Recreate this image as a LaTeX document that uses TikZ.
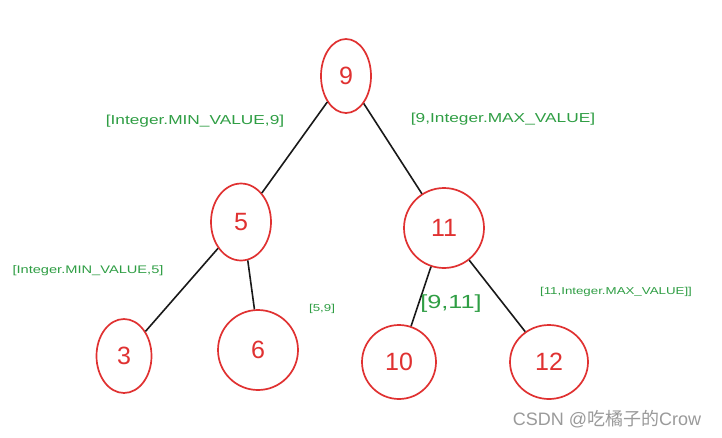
\documentclass[tikz,border=0pt]{standalone}
\usepackage{fontspec}
\setmainfont{Liberation Sans}
\newfontfamily\cjk{Noto Sans CJK SC}
\usetikzlibrary{shapes.geometric}
\definecolor{xred}{HTML}{E03131}
\definecolor{xgreen}{HTML}{2F9E44}
\definecolor{wm}{HTML}{9A9A9A}
\tikzset{
  tnode/.style={ellipse, draw=xred, line width=1.7pt, text=xred, inner sep=0pt, font=\fontsize{25}{25}\selectfont},
  edge/.style={draw=black!90, line width=1.6pt},
  lbl/.style={text=xgreen, inner sep=0pt}
}
\newcommand{\wide}[1]{\scalebox{1.33}[1]{#1}}
\begin{document}
\begin{tikzpicture}[x=1pt,y=-1pt]
\useasboundingbox[fill=white] (0,0) rectangle (722,437);
\node[tnode, minimum width=50pt, minimum height=74pt] (n9) at (346,76) {9};
\node[tnode, minimum width=60pt, minimum height=77pt] (n5) at (241,222) {5};
\node[tnode, minimum width=80pt, minimum height=80pt] (n11) at (444,228) {11};
\node[tnode, minimum width=55pt, minimum height=74pt] (n3) at (124,356) {3};
\node[tnode, minimum width=80pt, minimum height=80pt] (n6) at (258,350) {6};
\node[tnode, minimum width=74pt, minimum height=74pt] (n10) at (399,362) {10};
\node[tnode, minimum width=78pt, minimum height=74pt] (n12) at (549,362) {12};
\draw[edge] (n9) -- (n5);
\draw[edge] (n9) -- (n11);
\draw[edge] (n5) -- (n3);
\draw[edge] (n5.-80) -- (n6.95);
\draw[edge] (n11) -- (n10);
\draw[edge] (n11) -- (n12);
\node[lbl, font=\fontsize{13}{13}\selectfont] (l1) at (195,121) {\wide{[Integer.MIN\_VALUE,9]}};
\node[lbl, font=\fontsize{13}{13}\selectfont] (l2) at (503,119) {\wide{[9,Integer.MAX\_VALUE]}};
\node[lbl, font=\fontsize{11}{11}\selectfont] (l3) at (88,271) {\wide{[Integer.MIN\_VALUE,5]}};
\node[lbl, font=\fontsize{10}{10}\selectfont] (l4) at (322,309) {\wide{[5,9]}};
\node[lbl, font=\fontsize{19}{19}\selectfont] (l5) at (451,304) {\wide{[9,11]}};
\node[lbl, font=\fontsize{10}{10}\selectfont] (l6) at (616,292) {\wide{[11,Integer.MAX\_VALUE]]}};
\node[text=wm, inner sep=0pt, font=\fontsize{18}{18}\selectfont] (wmk) at (607,419) {CSDN @{\cjk 吃橘子的}Crow};
\end{tikzpicture}
\end{document}
